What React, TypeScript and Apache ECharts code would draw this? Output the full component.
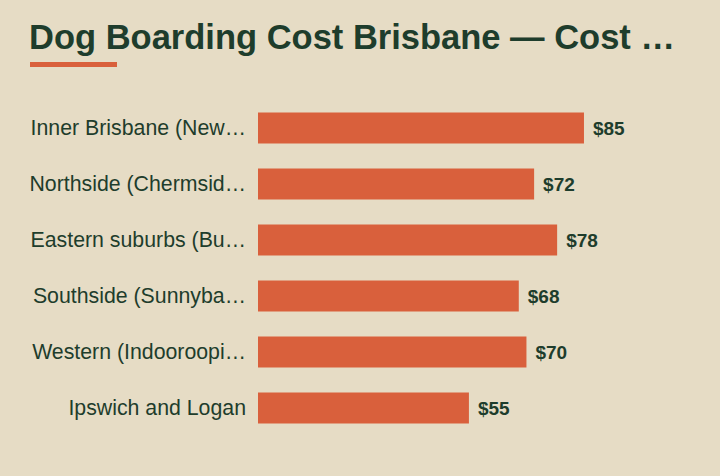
import React, { useEffect, useRef } from "react";
import * as echarts from "echarts";

const titleText = "Dog Boarding Cost Brisbane — Cost per Night by Area";
const categories = [
  "Inner Brisbane (New Farm, Paddington)",
  "Northside (Chermside, Aspley)",
  "Eastern suburbs (Bulimba, Wynnum)",
  "Southside (Sunnybank, Mt Gravatt)",
  "Western (Indooroopilly, Kenmore)",
  "Ipswich and Logan",
];
const values = [85, 72, 78, 68, 70, 55];

const BG = "#e6dcc5";
const BAR = "#d9603c";
const INK = "#1e3d2c";

const TITLE_FONT = "bold 34.5px 'Liberation Sans'";
const LABEL_FONT = "21.3px 'Liberation Sans'";

function fitText(text: string, font: string, maxWidth: number): string {
  const canvas = document.createElement("canvas");
  const ctx = canvas.getContext("2d")!;
  ctx.font = font;
  if (ctx.measureText(text).width <= maxWidth) return text;
  for (let n = text.length - 1; n > 0; n--) {
    const t = text.slice(0, n) + "…";
    if (ctx.measureText(t).width <= maxWidth) return t;
  }
  return "…";
}

export default function App() {
  const ref = useRef<HTMLDivElement>(null);
  useEffect(() => {
    document.body.style.margin = "0";
    const chart = echarts.init(ref.current!, null, { renderer: "svg" });
    chart.setOption({
      animation: false,
      backgroundColor: BG,
      title: {
        text: fitText(titleText, TITLE_FONT, 652),
        left: 24,
        top: 14,
        textStyle: {
          fontFamily: "Liberation Sans",
          fontSize: 34.5,
          fontWeight: "bold",
          color: INK,
        },
      },
      graphic: [
        {
          type: "rect",
          left: 30,
          top: 62,
          shape: { width: 87, height: 5 },
          style: { fill: BAR },
        },
      ],
      grid: { left: 258, right: 78.5, top: 100, bottom: 40, containLabel: false },
      xAxis: { type: "value", min: 0, max: 100, show: false },
      yAxis: {
        type: "category",
        inverse: true,
        data: categories,
        axisLine: { show: false },
        axisTick: { show: false },
        splitLine: { show: false },
        axisLabel: {
          margin: 12,
          fontFamily: "Liberation Sans",
          fontSize: 21.3,
          color: INK,
          formatter: (v: string) => fitText(v, LABEL_FONT, 217.5),
        },
      },
      series: [
        {
          type: "bar",
          data: values,
          barWidth: 31,
          itemStyle: { color: BAR },
          label: {
            show: true,
            position: "right",
            distance: 9,
            formatter: (p: any) => "$" + p.value,
            fontFamily: "Liberation Sans",
            fontSize: 19,
            fontWeight: "bold",
            color: INK,
          },
        },
      ],
    });
    return () => chart.dispose();
  }, []);
  return <div ref={ref} style={{ width: 720, height: 476, background: BG }} />;
}
